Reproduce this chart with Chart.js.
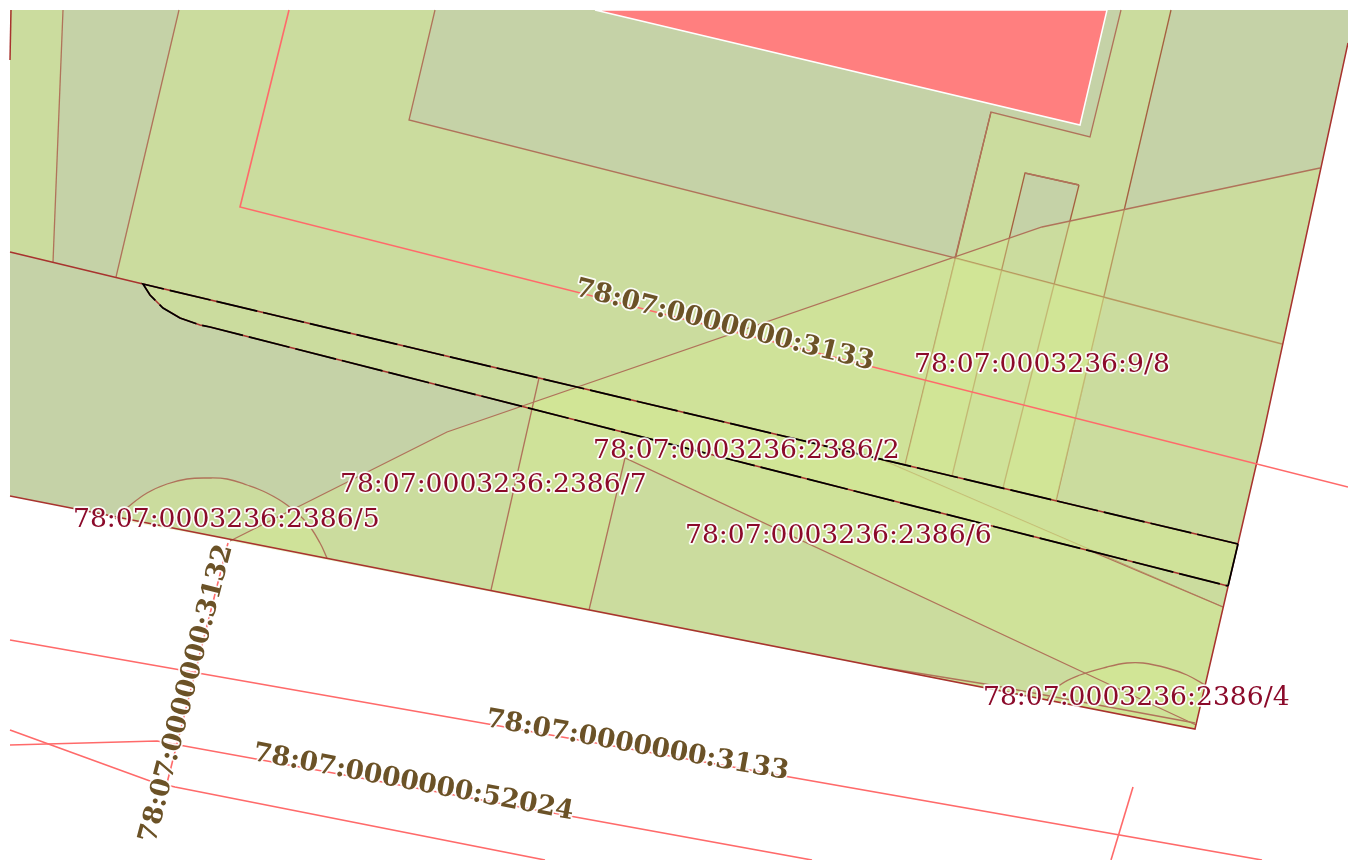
<!DOCTYPE html>
<html>
<head>
<meta charset="utf-8">
<title>Parcel map</title>
<script src="https://cdn.jsdelivr.net/npm/chart.js@4/dist/chart.umd.min.js"></script>
<style>
    html, body { margin: 0; padding: 0; background: #ffffff; overflow: hidden; }
    #mapChart { display: block; }
</style>
</head>
<body>
<canvas id="mapChart" width="1348" height="860"></canvas>
<script>
// Fills, as x,y pairs
const parcel = [[10,10],[1348,10],[1348,43],[1262,440],[1195,729],[10,496]];
const leftStrip = [[10,10],[63,10],[53,262],[10,252]];
const topBlock = [[179,10],[435,10],[409,120],[955,258],[991,112],[1090,137],[1121,10],[1171,10],[1124,209],[1056,501],[1003,488],[1079,185],[1025,173],[952,476],[116,277]];
const diagonalArea = [[1320,168],[1042,227],[447,432],[230,541],[1195,729],[1262,440]];
const bandArea = [[955,258],[1105,298],[1056,501],[905,465]];
const lowerBlock = [[532,409],[523,406],[579,387],[880,459],[1223,607],[1196,725],[625,458],[589,610],[491,590]];
const roadArea = [[143,284],[1238,544],[1228,586],[210,327],[200,325],[180,318],[163,308],[150,295]];
const arcLeft = [[115,519],[128,507],[147,493],[167,484],[187,479],[207,478],[227,479],[247,485],[267,493],[287,505],[307,523],[320,543],[327,558]];
const arcRight = [[1047,700],[1060,685],[1080,675],[1107,667],[1127,663],[1143,663],[1167,668],[1187,675],[1205,685],[1195,729]];
const sliver = [[880,667],[985,684],[1195,723],[1195,729]];
const redBlock = [[595,10],[1107,10],[1080,125]];

// Edges that the later fills wash out
const washedEdges = [
    [[991,112],[905,465]],
    [[1079,185],[1025,173],[952,476]],
    [[1079,185],[1003,488]],
    [[1171,10],[1056,501]],
    [[955,258],[1282,344]],
    [[880,459],[1223,607]]
];

// Edges on top of the fills
const innerEdges = [
    [[63,10],[53,262]],
    [[179,10],[116,277]],
    [[435,10],[409,120],[955,258],[991,112],[1090,137],[1121,10]],
    [[1079,185],[1025,173]],
    [[1320,168],[1042,227],[447,432],[230,541]],
    [[539,378],[491,590]],
    [[589,610],[625,458],[1196,725]],
    [[1093,552],[1223,607]],
    [[880,667],[985,684],[1195,723]]
];

// Parcel boundary
const outerEdges = [
    [[10,252],[143,284]],
    [[10,496],[1195,729],[1262,440],[1348,43]],
    [[11,10],[10,60]]
];

// Road, red under black
const roadLine = [[1238,544],[143,284],[150,295],[163,308],[180,318],[200,325],[210,327],[1228,586]];
const roadEnd = [[1238,544],[1228,586]];

// Red lines
const redLines = [
    [[289,10],[240,207],[1348,487]],
    [[10,640],[1262,860]],
    [[10,745],[157,741],[812,860]],
    [[10,730],[150,781],[175,787],[545,860]],
    [[1133,787],[1111,860]],
    [[228,543],[166,787]]
];

// Labels
const parcelNames = ['78:07:0003236:9/8', '78:07:0003236:2386/2', '78:07:0003236:2386/7', '78:07:0003236:2386/5', '78:07:0003236:2386/6', '78:07:0003236:2386/4'];
const parcelX = [914, 593, 340, 73, 685, 983];
const parcelY = [372, 458, 492, 527, 543, 705];
const roadNames = ['78:07:0000000:3133', '78:07:0000000:3133', '78:07:0000000:52024', '78:07:0000000:3132'];
const roadX = [574, 485, 252, 155];
const roadY = [295, 726, 760, 844];
const roadAngles = [14.1, 10, 10.5, -75.5];

const GREY = '#c5d2a7';
const OVERLAY = 'rgba(213, 236, 144, 0.4)';
const EDGE = '#b0735a';
const WASHED_EDGE = '#a5603f';
const BOUNDARY = '#a8332e';
const RED = '#ff6a6a';

function toPoints(pairs) {
    return pairs.map(p => ({ x: p[0], y: p[1] }));
}

function area(pairs, color) {
    const closed = pairs.concat([pairs[0]]);
    return {
        data: toPoints(closed),
        showLine: true,
        fill: 'shape',
        backgroundColor: color,
        borderWidth: 0,
        pointRadius: 0
    };
}

function line(pairs, color, width, dash) {
    return {
        data: toPoints(pairs),
        showLine: true,
        fill: false,
        borderColor: color,
        borderWidth: width,
        borderDash: dash || [],
        pointRadius: 0
    };
}

function curve(pairs, color, width) {
    const ds = line(pairs, color, width);
    ds.tension = 0.4;
    return ds;
}

// Draws the labels from the scales, with the white halo
const labelPlugin = {
    id: 'mapLabels',
    afterDatasetsDraw(chart) {
        const ctx = chart.ctx;
        const xs = chart.scales.x;
        const ys = chart.scales.y;

        function drawLabel(text, x, y, angle, font, color) {
            ctx.save();
            ctx.translate(xs.getPixelForValue(x), ys.getPixelForValue(y));
            ctx.rotate(angle * Math.PI / 180);
            ctx.font = font;
            ctx.textAlign = 'left';
            ctx.textBaseline = 'alphabetic';
            ctx.lineJoin = 'round';
            ctx.lineWidth = 3.5;
            ctx.strokeStyle = 'rgba(255, 255, 255, 0.9)';
            ctx.strokeText(text, 0, 0);
            ctx.fillStyle = color;
            ctx.fillText(text, 0, 0);
            ctx.restore();
        }

        parcelNames.forEach((name, i) => {
            drawLabel(name, parcelX[i], parcelY[i], 0, '26.6px "DejaVu Serif"', '#8b0a2a');
        });
        roadNames.forEach((name, i) => {
            drawLabel(name, roadX[i], roadY[i], roadAngles[i], 'bold 26.6px "DejaVu Serif"', '#6b5227');
        });
    }
};

document.addEventListener('DOMContentLoaded', function() {
    initMap();
});

function initMap() {
    const ctx = document.getElementById('mapChart').getContext('2d');

    // Painter's order, first entry is the bottom layer
    const layers = [
        area(parcel, GREY),
        area(leftStrip, OVERLAY),
        area(topBlock, OVERLAY)
    ];
    washedEdges.forEach(e => layers.push(line(e, WASHED_EDGE, 1.3)));
    layers.push(area(diagonalArea, OVERLAY));
    layers.push(area(bandArea, OVERLAY));
    layers.push(area(lowerBlock, OVERLAY));
    layers.push(area(roadArea, OVERLAY));
    layers.push(area(arcLeft, OVERLAY));
    layers.push(area(arcRight, OVERLAY));
    layers.push(area(sliver, OVERLAY));

    innerEdges.forEach(e => layers.push(line(e, EDGE, 1.3)));
    layers.push(curve(arcLeft, EDGE, 1.3));
    layers.push(curve(arcRight.slice(0, 9), EDGE, 1.3));

    const redArea = area(redBlock, '#ff7f7f');
    redArea.borderColor = '#ffffff';
    redArea.borderWidth = 1.5;
    layers.push(redArea);
    outerEdges.forEach(e => layers.push(line(e, BOUNDARY, 1.5)));
    redLines.forEach(e => layers.push(line(e, RED, 1.6)));
    layers.push(line(roadLine, BOUNDARY, 1.5));
    layers.push(line(roadLine, '#000000', 1.7, [42, 6]));
    layers.push(line(roadEnd, '#000000', 1.7));

    new Chart(ctx, {
        type: 'scatter',
        // Chart.js paints the first dataset last
        data: { datasets: layers.reverse() },
        options: {
            responsive: false,
            animation: false,
            layout: { padding: 0 },
            plugins: {
                legend: { display: false },
                tooltip: { enabled: false }
            },
            scales: {
                x: { type: 'linear', display: false, min: 0, max: 1348 },
                y: { type: 'linear', display: false, min: 0, max: 860, reverse: true }
            }
        },
        plugins: [labelPlugin]
    });
}
</script>
</body>
</html>
